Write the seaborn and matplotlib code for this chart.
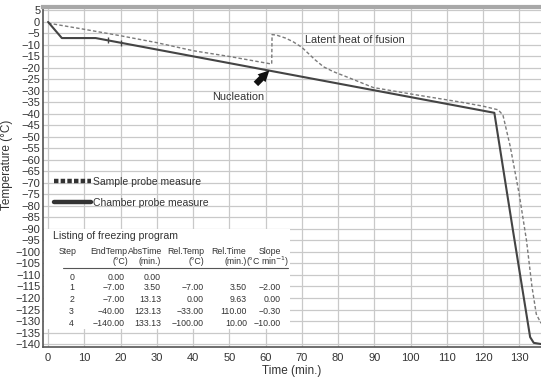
import matplotlib
matplotlib.use("Agg")
from matplotlib import pyplot as plt
from matplotlib.lines import Line2D
from matplotlib.patches import Rectangle
import pandas as pd
import seaborn as sns

# chamber probe (solid)
chamber_t = [0, 3.8, 13.13, 123.13, 128.3, 133.0, 134.0, 136.0]
chamber_v = [0, -7, -7, -39.5, -91, -137, -139.5, -140]
# sample probe (dashed)
sample_t = [0, 10, 20, 30, 40, 50, 61.7, 61.8, 63, 65.5, 67.6, 70, 73.7, 76, 78.7,
            83.4, 89.7, 100.8, 113.7, 120, 124.2, 125.5, 127.5, 130, 132, 133.5, 134.7, 136]
sample_v = [-0.5, -3.2, -6, -9, -12.5, -15, -18.3, -5.5, -5.7, -7, -8.6, -11, -16.5, -19.5, -21.6,
            -24.5, -28.5, -31.5, -34.8, -36.6, -38.2, -40.5, -54, -75, -95, -115, -127, -131]
# small glitches on the chamber line
glitch_t = [16.6, 20.0]
glitch_v = [-8.0, -9.0]

x_ticks = list(range(0, 131, 10))
y_ticks = list(range(-140, 6, 5))

table_title = "Listing of freezing program"
table_head1 = ["Step", "EndTemp", "AbsTime", "Rel.Temp", "Rel.Time", "Slope"]
table_head2 = ["", "(°C)", "(min.)", "(°C)", "(min.)", "(°C min$^{-1}$)"]
table_rows = [
    ["0", "0.00", "0.00", "", "", ""],
    ["1", "\u22127.00", "3.50", "\u22127.00", "3.50", "\u22122.00"],
    ["2", "\u22127.00", "13.13", "0.00", "9.63", "0.00"],
    ["3", "\u221240.00", "123.13", "\u221233.00", "110.00", "\u22120.30"],
    ["4", "\u2212140.00", "133.13", "\u2212100.00", "10.00", "\u221210.00"],
]

sns.set_style("white")
plt.rcParams["font.family"] = ["Liberation Sans", "DejaVu Sans"]
plt.rcParams["axes.unicode_minus"] = True

fig = plt.figure(figsize=(5.41, 3.82), dpi=100)
ax = fig.add_axes([43 / 541, 35 / 382, 498 / 541, 340 / 382])

grey = "#c9c9c9"
ax.set_xlim(-1.4, 136)
ax.set_ylim(-141.3, 6.5)
ax.set_xticks(x_ticks)
ax.set_yticks(y_ticks)
ax.set_xticks(range(-0, 137, 2), minor=True)
ax.set_yticks(range(-141, 7, 1), minor=True)
ax.grid(True, which="major", color=grey, lw=0.9)
ax.set_axisbelow(True)

chamber = pd.DataFrame({"t": chamber_t, "v": chamber_v})
sample = pd.DataFrame({"t": sample_t, "v": sample_v})
sns.lineplot(data=sample, x="t", y="v", ax=ax, color="#7a7a7a", lw=1.0,
             ls=(0, (2.5, 1.6)), estimator=None, sort=False, zorder=3)
sns.lineplot(data=chamber, x="t", y="v", ax=ax, color="#444444", lw=1.5,
             estimator=None, sort=False, zorder=4)
ax.plot(glitch_t, glitch_v, ls="none", marker="|", ms=5, mew=1, color="#444444", zorder=4)

for s in ["left", "bottom"]:
    ax.spines[s].set_color("#555555")
    ax.spines[s].set_linewidth(1.2)
ax.spines["top"].set_color("#a8a8a8")
ax.spines["top"].set_linewidth(3)
ax.spines["right"].set_visible(False)

ax.tick_params(axis="y", which="major", direction="in", length=4, width=0.8,
               pad=2, labelsize=8, colors="#333333")
ax.tick_params(axis="y", which="minor", direction="in", length=2, width=0.6, color="#555555")
ax.tick_params(axis="x", which="major", direction="inout", length=5, width=0.8,
               pad=1.5, labelsize=8, colors="#333333")
ax.tick_params(axis="x", which="minor", direction="out", length=2, width=0.6, color="#555555")

ax.set_xlabel("Time (min.)", fontsize=8.5, color="#333333")
ax.set_ylabel("Temperature (°C)", fontsize=8.5, color="#333333")
ax.xaxis.set_label_coords(0.5, -0.053)
ax.yaxis.set_label_coords(-0.061, 0.535)

# annotations
ax.text(70.9, -7.8, "Latent heat of fusion", fontsize=7.8, color="#333333", va="center")
ax.text(52.4, -32.6, "Nucleation", fontsize=7.8, color="#333333", va="center", ha="center")
ax.annotate("", xy=(61.6, -20.2), xytext=(56.8, -27.8),
            arrowprops=dict(arrowstyle="simple,head_width=0.8,head_length=0.8,tail_width=0.45",
                            color="#111111", lw=0), zorder=6)

# legend
handles = [Line2D([], [], color="#333333", lw=3.2, ls=(0, (1.0, 0.5))),
           Line2D([], [], color="#333333", lw=3.2)]
leg = ax.legend(handles, ["Sample probe measure", "Chamber probe measure"],
                loc="upper left", bbox_to_anchor=(0.022, 0.5), frameon=False,
                fontsize=7.5, handlelength=3.6, handletextpad=0.15, labelspacing=1.05,
                borderpad=0, borderaxespad=0)
for t in leg.get_texts():
    t.set_color("#333333")

# table of the freezing program
def px(x, y):
    return (x - 43) / 498, (347 - y) / 340

ax.add_patch(Rectangle(px(44, 329), (290 - 44) / 498, (329 - 229) / 340,
                       transform=ax.transAxes, facecolor="white", edgecolor="none", zorder=5))
tx, ty = px(53, 236)
ax.text(tx, ty, table_title, transform=ax.transAxes, fontsize=7.6, color="#333333",
        va="center", zorder=6)
col_right = [77, 127, 162, 204, 246, 281]
head2_right = [77, 128, 161, 204, 247, 289]
for i, h in enumerate(table_head1):
    x, y = px(col_right[i], 251)
    ax.text(x, y, h, transform=ax.transAxes, fontsize=6.3, color="#333333",
            ha="right", va="center", zorder=6)
for i, h in enumerate(table_head2):
    x, y = px(head2_right[i], 262)
    ax.text(x, y, h, transform=ax.transAxes, fontsize=6.3, color="#333333",
            ha="right", va="center", zorder=6)
x0, y0 = px(63, 268)
x1, _ = px(288, 268)
ax.plot([x0, x1], [y0, y0], transform=ax.transAxes, color="#555555", lw=0.8, zorder=6)
row_y = [277, 288, 300, 311, 323]
row_right = [74, 125, 161, 204, 247, 281]
for r, row in enumerate(table_rows):
    for i, cell in enumerate(row):
        x, y = px(row_right[i], row_y[r])
        ax.text(x, y, cell, transform=ax.transAxes, fontsize=6.3, color="#333333",
                ha="right", va="center", zorder=6)

fig.savefig("out.png", dpi=100)
